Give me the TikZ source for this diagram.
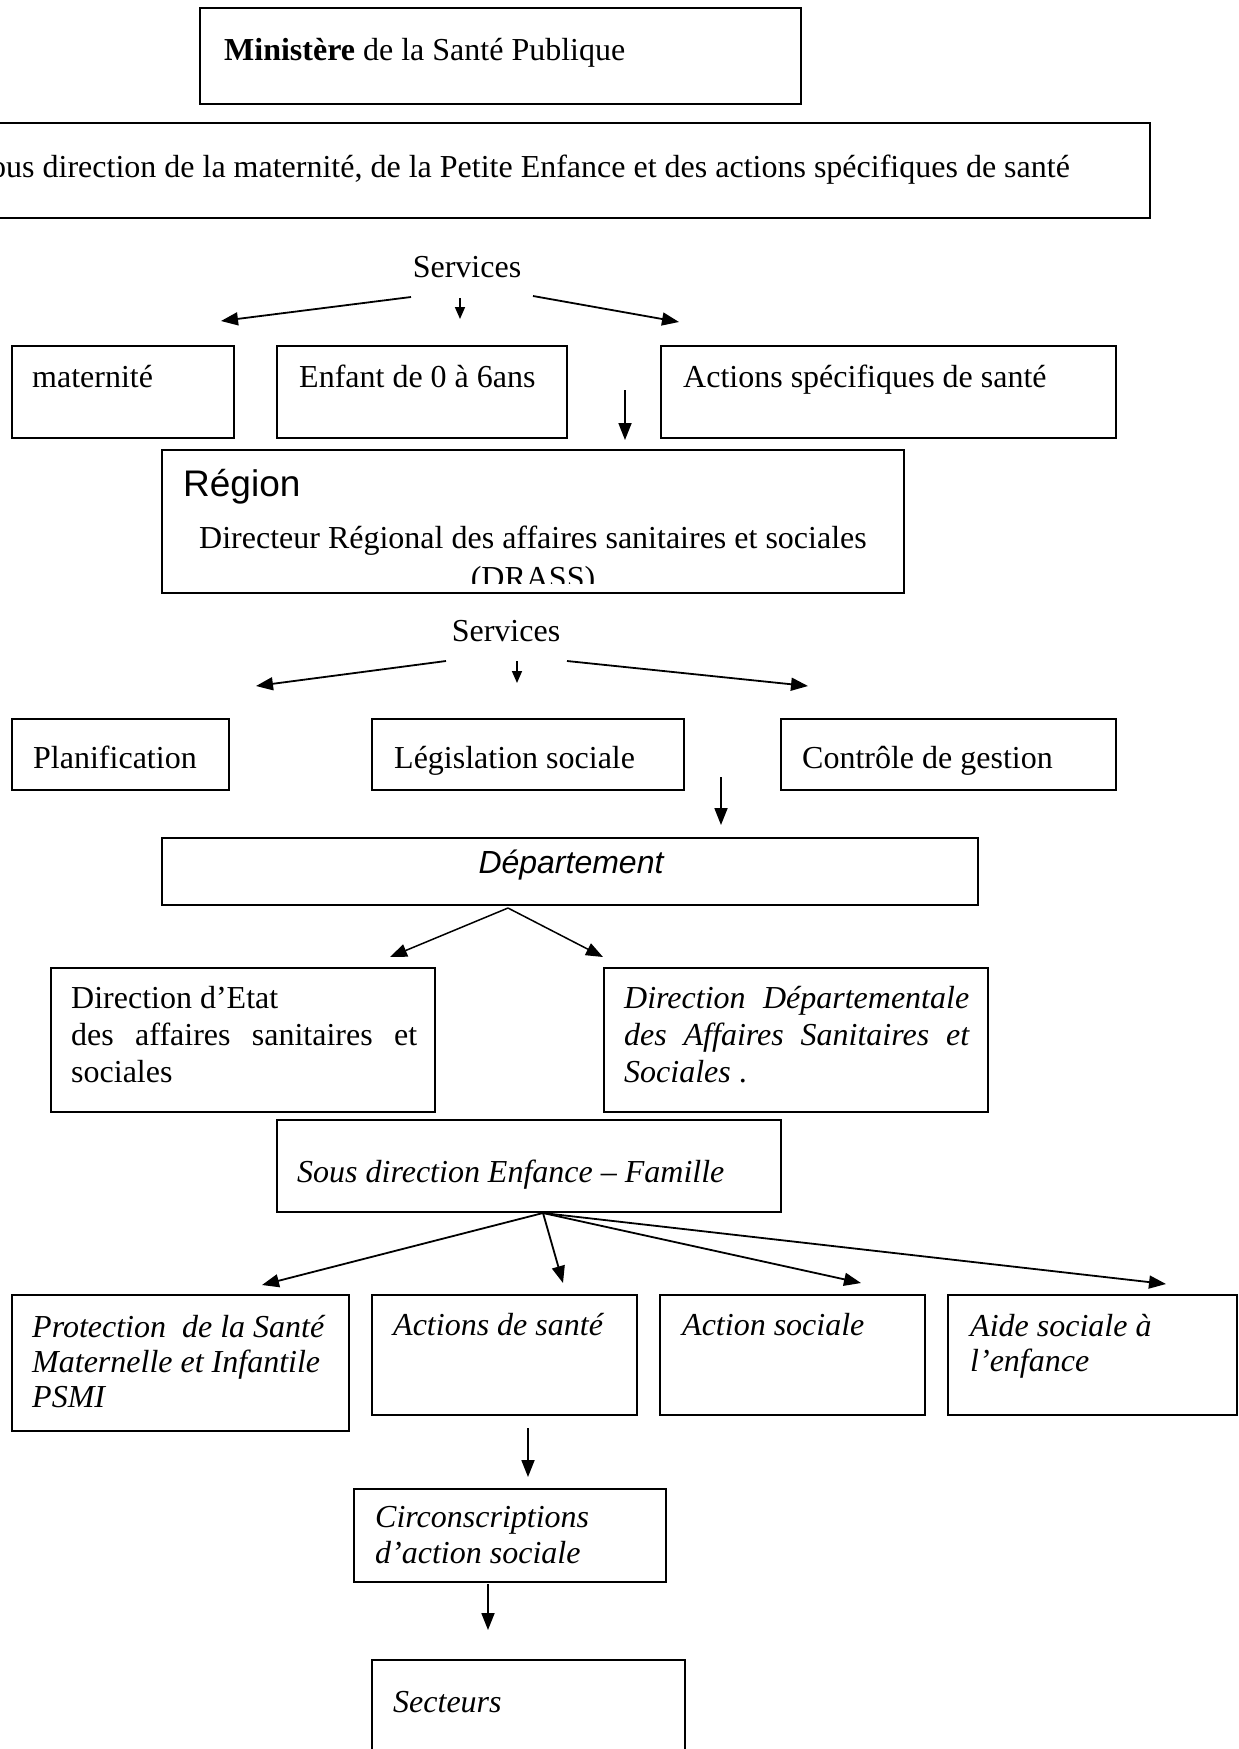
\documentclass[tikz,border=0pt]{standalone}
\usepackage{fontspec}
\setmainfont{Liberation Serif}
\newfontfamily\arialf{Liberation Sans}
\usetikzlibrary{arrows.meta,fit}
\begin{document}
\begin{tikzpicture}[x=1pt,y=-1pt,
  box/.style={draw, line width=2pt, inner sep=0pt},
  txt/.style={inner sep=0pt, font=\fontsize{32}{37}\selectfont, anchor=base west},
  arr/.style={line width=1.8pt, -{Triangle[length=17pt,width=13pt]}},
  sarr/.style={line width=1.6pt, -{Triangle[length=12pt,width=10pt]}}]
\useasboundingbox (0,0) rectangle (1239,1749);
\fill[white] (0,0) rectangle (1239,1749);

% Ministere
\node[box, fit={(200,8) (801,104)}] (min) {};
\node[txt] (mint) at (224,60) {\textbf{Ministère} de la Santé Publique};

% Sous direction maternite
\node[box, fit={(-30,123) (1150,218)}] (sdm) {};
\node[txt, anchor=base east] (sdmt) at (1070,177) {Sous direction de la maternité, de la Petite Enfance et des actions spécifiques de santé};

% Services 1
\node[txt, anchor=base] (serv1) at (467,277) {Services};
\coordinate (s1l0) at (411,297); \coordinate (s1l1) at (221,321);
\coordinate (s1m0) at (460,298); \coordinate (s1m1) at (460,319);
\coordinate (s1r0) at (533,296); \coordinate (s1r1) at (679,322);
\draw[arr] (s1l0) -- (s1l1);
\draw[sarr] (s1m0) -- (s1m1);
\draw[arr] (s1r0) -- (s1r1);

% Row 1
\node[box, fit={(12,346) (234,438)}] (mat) {};
\node[txt] (matt) at (32,387) {maternité};
\node[box, fit={(277,346) (567,438)}] (enf) {};
\node[txt] (enft) at (299,387) {Enfant de 0 à 6ans};
\node[box, fit={(661,346) (1116,438)}] (act) {};
\node[txt] (actt) at (683,387) {Actions spécifiques de santé};
\coordinate (d1a) at (625,390); \coordinate (d1b) at (625,440);
\draw[arr] (d1a) -- (d1b);

% Region
\node[box, fit={(162,450) (904,593)}] (reg) {};
\node[txt, font=\arialf\fontsize{37}{40}\selectfont] (regt) at (183,496) {Région};
\node[txt, anchor=base] (drt) at (533,548) {Directeur Régional des affaires sanitaires et sociales};
\begin{scope}
\clip (162,450) rectangle (904,583);
\node[txt, anchor=base] (drass) at (533,588) {(DRASS)};
\end{scope}

% Services 2
\node[txt, anchor=base] (serv2) at (506,641) {Services};
\coordinate (s2l0) at (446,661); \coordinate (s2l1) at (256,686);
\coordinate (s2m0) at (517,661); \coordinate (s2m1) at (517,683);
\coordinate (s2r0) at (567,661); \coordinate (s2r1) at (808,686);
\draw[arr] (s2l0) -- (s2l1);
\draw[sarr] (s2m0) -- (s2m1);
\draw[arr] (s2r0) -- (s2r1);

% Row 2
\node[box, fit={(12,719) (229,790)}] (pla) {};
\node[txt] (plat) at (33,768) {Planification};
\node[box, fit={(372,719) (684,790)}] (leg) {};
\node[txt] (legt) at (394,768) {Législation sociale};
\node[box, fit={(781,719) (1116,790)}] (con) {};
\node[txt] (cont) at (802,768) {Contrôle de gestion};
\coordinate (d2a) at (721,777); \coordinate (d2b) at (721,825);
\draw[arr] (d2a) -- (d2b);

% Departement
\node[box, fit={(162,838) (978,905)}] (dep) {};
\node[txt, anchor=base, font=\arialf\itshape\fontsize{32}{37}\selectfont] (dept) at (571,873) {Département};
\coordinate (dp0) at (508,908);
\coordinate (dpl) at (390,957); \coordinate (dpr) at (603,957);
\draw[arr, line width=1.5pt] (dp0) -- (dpl);
\draw[arr, line width=1.5pt] (dp0) -- (dpr);

% Directions
\node[box, fit={(51,968) (435,1112)}] (dea) {};
\node[txt] (deat) at (71,1008) {\parbox[t]{346pt}{\fontsize{32}{37}\selectfont Direction d’Etat\\\makebox[346pt][s]{des affaires sanitaires et}\\sociales}};
\node[box, fit={(604,968) (988,1112)}] (dda) {};
\node[txt] (ddat) at (624,1008) {\parbox[t]{345pt}{\fontsize{32}{37}\selectfont\itshape \makebox[345pt][s]{Direction Départementale}\\\makebox[345pt][s]{des Affaires Sanitaires et}\\Sociales\upshape\ .}};

% Sous direction Enfance - Famille
\node[box, fit={(277,1120) (781,1212)}] (sdef) {};
\node[txt, font=\itshape\fontsize{32}{37}\selectfont] (sdeft) at (297,1182) {Sous direction Enfance – Famille};
\coordinate (sf0) at (543,1213);
\coordinate (sf1) at (262,1285); \coordinate (sf2) at (563,1283);
\coordinate (sf3) at (861,1283); \coordinate (sf4) at (1166,1284);
\draw[arr] (sf0) -- (sf1);
\draw[arr] (sf0) -- (sf2);
\draw[arr] (sf0) -- (sf3);
\draw[arr] (sf0) -- (sf4);

% Row 3
\node[box, fit={(12,1295) (349,1431)}] (psm) {};
\node[txt] (psmt) at (32,1337) {\parbox[t]{320pt}{\fontsize{32}{35}\selectfont\itshape Protection\ \ de la Santé\\Maternelle et Infantile\\PSMI}};
\node[box, fit={(372,1295) (637,1415)}] (ads) {};
\node[txt, font=\itshape\fontsize{32}{37}\selectfont] (adst) at (393,1335) {Actions de santé};
\node[box, fit={(660,1295) (925,1415)}] (aso) {};
\node[txt, font=\itshape\fontsize{32}{37}\selectfont] (asot) at (682,1335) {Action sociale};
\node[box, fit={(948,1295) (1237,1415)}] (aid) {};
\node[txt] (aidt) at (970,1336) {\parbox[t]{260pt}{\fontsize{32}{35}\selectfont\itshape Aide sociale à\\l’enfance}};

\coordinate (d3a) at (528,1428); \coordinate (d3b) at (528,1477);
\draw[arr] (d3a) -- (d3b);

% Circonscriptions
\node[box, fit={(354,1489) (666,1582)}] (cir) {};
\node[txt] (cirt) at (375,1527) {\parbox[t]{290pt}{\fontsize{32}{36}\selectfont\itshape Circonscriptions\\d’action sociale}};
\coordinate (d4a) at (488,1584); \coordinate (d4b) at (488,1630);
\draw[arr] (d4a) -- (d4b);

% Secteurs
\node[box, fit={(372,1660) (685,1775)}] (sec) {};
\node[txt, font=\itshape\fontsize{32}{37}\selectfont] (sect) at (393,1712) {Secteurs};
\end{tikzpicture}
\end{document}
